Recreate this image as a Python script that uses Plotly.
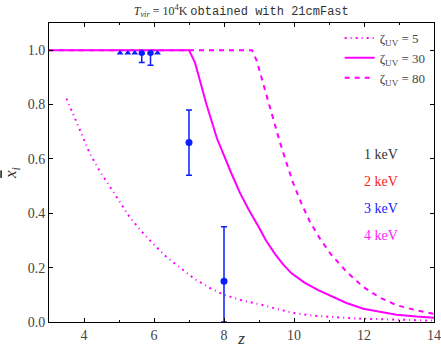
import plotly.graph_objects as go

# zeta_UV = 5 (dash-dot)
z_5 = [3.5, 3.8, 4.17, 4.45, 4.74, 5.0, 5.31, 5.6, 5.98, 6.35, 6.74, 7.17, 7.6, 8.0, 8.5, 9.12, 9.6, 10.08, 10.5, 11.03, 11.5, 11.98, 13.0, 14.0]
x_5 = [0.822, 0.73, 0.619, 0.555, 0.498, 0.445, 0.385, 0.34, 0.287, 0.24, 0.200, 0.157, 0.125, 0.100, 0.080, 0.062, 0.045, 0.031, 0.024, 0.018, 0.015, 0.012, 0.008, 0.005]

# zeta_UV = 30 (solid)
z_30 = [3.0, 7.0, 7.17, 7.31, 7.5, 7.8, 8.0, 8.2, 8.46, 8.7, 9.0, 9.2, 9.46, 9.7, 9.93, 10.3, 10.69, 11.03, 11.5, 11.98, 12.45, 12.93, 13.5, 14.0]
x_30 = [1.0, 1.0, 0.955, 0.889, 0.80, 0.675, 0.61, 0.55, 0.474, 0.415, 0.348, 0.30, 0.25, 0.21, 0.179, 0.145, 0.117, 0.098, 0.070, 0.049, 0.037, 0.027, 0.020, 0.016]

# zeta_UV = 80 (dashed)
z_80 = [3.0, 8.8, 8.93, 9.2, 9.4, 9.6, 9.8, 9.98, 10.2, 10.45, 10.75, 11.05, 11.5, 11.98, 12.45, 12.93, 13.5, 14.0]
x_80 = [1.0, 1.0, 0.963, 0.84, 0.745, 0.66, 0.58, 0.51, 0.44, 0.37, 0.305, 0.25, 0.185, 0.129, 0.090, 0.062, 0.043, 0.030]

# observational lower limits
z_lim = [5.03, 5.25, 5.45, 5.65, 5.9, 6.1]
x_lim = [0.99, 0.99, 0.99, 0.99, 0.99, 0.99]
z_lim_err = [5.65, 5.9]
x_lim_err = [0.99, 0.99]
lim_err_minus = [0.035, 0.045]

# measurements with errors
z_obs = [7.0, 8.0]
x_obs = [0.66, 0.15]
err_plus = [0.12, 0.20]
err_minus = [0.12, 0.15]

# text labels
mass_labels = ["1 keV", "2 keV", "3 keV", "4 keV"]
mass_colors = ["#333333", "#ff2020", "#2020ff", "#ff20ff"]
mass_y = [0.615, 0.517, 0.418, 0.317]

MAG = "#ff00ff"
BLUE = "#0a1eff"
SERIF = "Liberation Serif, DejaVu Serif, serif"

fig = go.Figure()
fig.add_trace(go.Scatter(x=z_5, y=x_5, mode="lines", name="ζ<sub>UV</sub> = 5",
                         line=dict(color=MAG, width=2, dash="2px,4px,1px,4px")))
fig.add_trace(go.Scatter(x=z_30, y=x_30, mode="lines", name="ζ<sub>UV</sub> = 30",
                         line=dict(color=MAG, width=2)))
fig.add_trace(go.Scatter(x=z_80, y=x_80, mode="lines", name="ζ<sub>UV</sub> = 80",
                         line=dict(color=MAG, width=2, dash="5px,5px")))

fig.add_trace(go.Scatter(x=z_lim_err, y=x_lim_err, mode="markers", showlegend=False,
                         marker=dict(color=BLUE, size=6, symbol="circle"),
                         error_y=dict(type="data", symmetric=False, array=[0, 0], arrayminus=lim_err_minus,
                                      color=BLUE, thickness=1.5, width=3)))
fig.add_trace(go.Scatter(x=z_lim, y=x_lim, mode="markers", showlegend=False,
                         marker=dict(color=BLUE, size=6, symbol="triangle-up")))
fig.add_trace(go.Scatter(x=z_obs, y=x_obs, mode="markers", showlegend=False,
                         marker=dict(color=BLUE, size=7, symbol="circle"),
                         error_y=dict(type="data", symmetric=False, array=err_plus, arrayminus=err_minus,
                                      color=BLUE, thickness=1.5, width=3)))

for lab, col, yy in zip(mass_labels, mass_colors, mass_y):
    fig.add_annotation(x=12.49, y=yy, text=lab, showarrow=False, xref="x", yref="y",
                       font=dict(family=SERIF, size=14, color=col))

axis_common = dict(showline=True, linecolor="black", linewidth=1, mirror="ticks",
                   ticks="inside", ticklen=4, tickcolor="black", showgrid=False, zeroline=False,
                   automargin=False,
                   tickfont=dict(family=SERIF, size=14, color="#444444"))

fig.update_xaxes(range=[3, 14], tickvals=[4, 6, 8, 10, 12, 14],
                 minor=dict(tickvals=[3, 5, 7, 9, 11, 13], ticks="inside", ticklen=2, tickcolor="black"),
                 title=dict(text="<i>z</i>", font=dict(family=SERIF, size=17, color="#333333"), standoff=5),
                 **axis_common)
fig.update_yaxes(range=[0, 1.1], tickvals=[0, 0.2, 0.4, 0.6, 0.8, 1.0], tickformat=".1f",
                 title=dict(text="<i><span style=\"text-decoration:overline\">x</span></i><sub><i>i</i></sub>",
                            font=dict(family=SERIF, size=17, color="#333333"), standoff=6),
                 **axis_common)

fig.update_layout(
    width=441, height=348,
    margin=dict(l=49, r=7, t=23, b=26),
    paper_bgcolor="white", plot_bgcolor="white",
    title=dict(text="<i>T</i><sub><i>vir</i></sub> = 10<sup>4</sup>K <span style=\"font-family:'Liberation Mono', 'DejaVu Sans Mono', monospace\">obtained with 21cmFast</span>",
               x=0.547, xanchor="center", y=0.97, yanchor="middle",
               font=dict(family=SERIF, size=12, color="#333333")),
    legend=dict(x=0.755, y=1.0, xanchor="left", yanchor="top", bgcolor="rgba(0,0,0,0)",
                borderwidth=0, itemwidth=30, tracegroupgap=0,
                font=dict(family=SERIF, size=13, color="#444444")),
    showlegend=True,
)

fig.write_html("out.html", config={"displayModeBar": False},
               post_script="document.body.style.margin='0px';document.body.style.padding='0px';")
